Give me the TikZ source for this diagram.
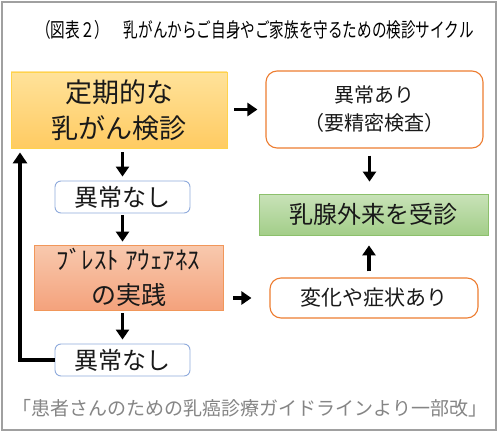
\documentclass[tikz,border=0pt]{standalone}
\usepackage{fontspec}
\setmainfont{Noto Sans CJK JP}
\usetikzlibrary{arrows.meta,calc}
\definecolor{frameg}{HTML}{A0A0A0}
\definecolor{orgb}{HTML}{ED7D31}
\definecolor{blueb}{HTML}{8FAADC}
\definecolor{yelT}{HTML}{FFE29A}
\definecolor{yelB}{HTML}{FFCB62}
\definecolor{yelD}{HTML}{FFC000}
\definecolor{salT}{HTML}{F8C9AE}
\definecolor{salB}{HTML}{F4A27C}
\definecolor{grnT}{HTML}{C8E2B8}
\definecolor{grnB}{HTML}{A3CE89}
\definecolor{grnD}{HTML}{8CC06C}
\definecolor{footg}{HTML}{858585}
\tikzset{
  box/.style={minimum width=#1, inner sep=0pt, align=center, text=black!90},
  okbox/.style={box=135pt, minimum height=32pt, rounded corners=6pt, draw=blueb, line width=0.9pt, fill=white, font=\fontsize{24}{28}\selectfont},
  warnbox/.style={box=#1, rounded corners=11pt, draw=orgb, line width=1.1pt, fill=white},
  arr/.style={line width=3.5pt, -{Triangle[length=10pt,width=13pt]}},
}
\begin{document}
\begin{tikzpicture}[x=1pt,y=-1pt]
\useasboundingbox (0,0) rectangle (500,433);
\fill[white] (0,0) rectangle (500,433);
\draw[frameg, line width=1.2pt] (2,2) rectangle (496,430);
\node (title) at (255,30) {\scalebox{0.73}[1]{\fontsize{20}{22}\selectfont （図表２）\quad 乳がんからご自身やご家族を守るための検診サイクル}};
\node[box=216pt, minimum height=76pt, draw=yelD!70, line width=0.8pt, top color=yelT, bottom color=yelB, font=\fontsize{27}{36}\selectfont] (teiki) at (119,110) {定期的な\\乳がん検診};
\node[warnbox=217pt, minimum height=77pt, font=\fontsize{20}{28}\selectfont] (ari) at (374.5,109.5) {異常あり\\（要精密検査）};
\node[okbox] (nashi1) at (122.5,197) {異常なし};
\node[box=189pt, minimum height=65pt, draw=orgb!80, line width=0.8pt, top color=salT, bottom color=salB, font=\fontsize{25}{35}\selectfont] (breast) at (128.5,277.5) {ﾌﾞﾚｽﾄ ｱｳｪｱﾈｽ\\の実践};
\node[box=229pt, minimum height=41pt, draw=grnD, line width=0.8pt, top color=grnT, bottom color=grnB, font=\fontsize{24}{28}\selectfont] (nyusen) at (373.5,214.5) {乳腺外来を受診};
\node[warnbox=208pt, minimum height=40pt, font=\fontsize{21}{26}\selectfont] (henka) at (374,298) {変化や症状あり};
\node[okbox] (nashi2) at (122.5,360) {異常なし};
\node[text=footg, font=\fontsize{19}{22}\selectfont] (foot) at (250,408) {「患者さんのための乳癌診療ガイドラインより一部改」};
\coordinate (loopx) at (20,0);
\draw[arr, shorten <=7pt, shorten >=8pt] (teiki.east |- ari) -- (ari.west);
\draw[arr, shorten <=4pt, shorten >=4pt] (nashi1.north |- teiki.south) -- (nashi1.north);
\draw[arr, shorten <=2pt, shorten >=3pt] (nashi1.south) -- (nashi1.south |- breast.north);
\draw[arr, shorten <=3pt, shorten >=4pt] (nashi2.north |- breast.south) -- (nashi2.north);
\draw[arr, shorten <=10pt, shorten >=18pt] (breast.east |- henka) -- (henka.west);
\draw[arr, shorten <=7pt, shorten >=12pt] ([xshift=-5pt]ari.south) -- ([xshift=-5pt]ari.south |- nyusen.north);
\draw[arr, shorten <=6pt, shorten >=10pt] ([xshift=-5pt]henka.north) -- ([xshift=-5pt]henka.north |- nyusen.south);
\draw[line width=4pt, -{Triangle[length=11pt,width=14pt]}, shorten >=4pt] (nashi2.west) -- (nashi2.west -| loopx) -- (loopx |- teiki.south);
\end{tikzpicture}
\end{document}
